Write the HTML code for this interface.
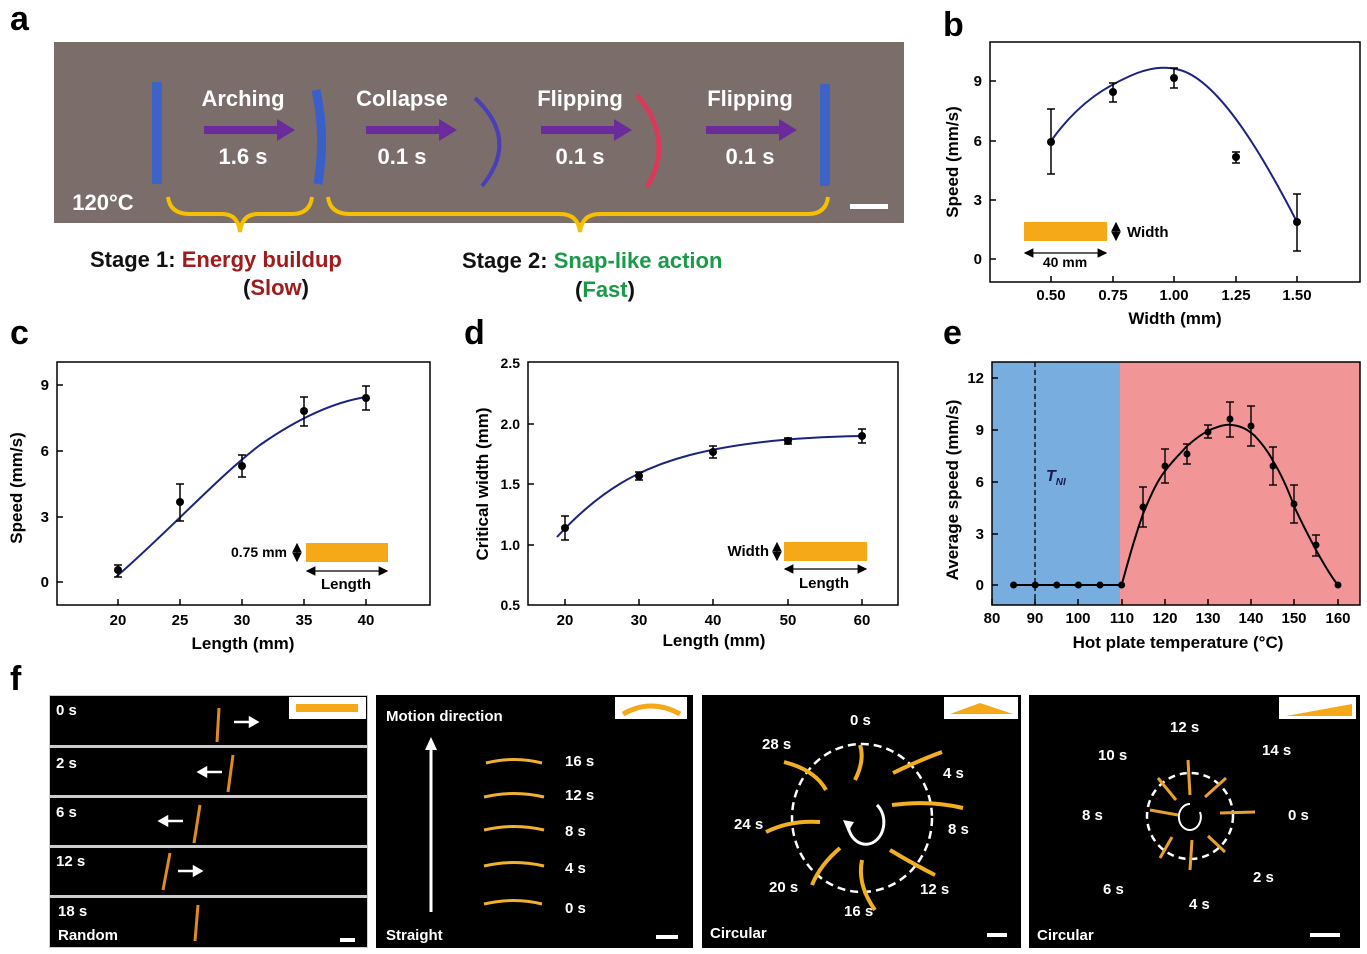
<!DOCTYPE html>
<html><head><meta charset="utf-8"><style>
html,body{margin:0;padding:0;background:#fff}
svg{display:block}
text{font-family:"Liberation Sans",Arial,sans-serif;font-weight:bold}
</style></head><body>
<svg width="1367" height="954" viewBox="0 0 1367 954" xmlns="http://www.w3.org/2000/svg">
<defs>
<marker id="ah" markerWidth="8" markerHeight="8" refX="7" refY="4" orient="auto"><path d="M0,0 L8,4 L0,8 z" fill="#000"/></marker>
<marker id="ahs" markerWidth="8" markerHeight="8" refX="7" refY="4" orient="auto-start-reverse"><path d="M0,0 L8,4 L0,8 z" fill="#000"/></marker>
</defs>

<!-- Panel a -->
<text x="10" y="30" font-size="34">a</text>
<rect x="54" y="42" width="850" height="181" fill="#7b6e6a"/>
<rect x="152" y="82" width="10" height="102" fill="#3d62c8" rx="2"/>
<path d="M316,90 Q326,136 318,184" stroke="#3b5fc8" stroke-width="9" fill="none"/>
<path d="M475,98 Q520,140 482,186" stroke="#4a3fb8" stroke-width="4" fill="none"/>
<path d="M637,95 Q675,140 647,187" stroke="#d83a5a" stroke-width="5" fill="none"/>
<rect x="820" y="84" width="10" height="102" fill="#3d62c8" rx="2"/>
<g fill="#6b2b9c">
<rect x="204" y="126" width="75" height="8"/><path d="M277,119 L295,130 L277,141z"/>
<rect x="366" y="126" width="75" height="8"/><path d="M439,119 L457,130 L439,141z"/>
<rect x="541" y="126" width="75" height="8"/><path d="M614,119 L632,130 L614,141z"/>
<rect x="706" y="126" width="75" height="8"/><path d="M779,119 L797,130 L779,141z"/>
</g>
<g fill="#fff" font-size="22" text-anchor="middle">
<text x="243" y="106">Arching</text><text x="243" y="164">1.6 s</text>
<text x="402" y="106">Collapse</text><text x="402" y="164">0.1 s</text>
<text x="580" y="106">Flipping</text><text x="580" y="164">0.1 s</text>
<text x="750" y="106">Flipping</text><text x="750" y="164">0.1 s</text>
<text x="103" y="210">120°C</text>
</g>
<rect x="850" y="204" width="38" height="5" fill="#fff"/>
<g stroke="#f5c000" stroke-width="4" fill="none">
<path d="M168,197 Q170,214 190,214 L222,214 Q238,214 240,232 Q242,214 258,214 L292,214 Q310,214 312,197"/>
<path d="M328,197 Q330,214 350,214 L560,214 Q578,214 580,232 Q582,214 600,214 L808,214 Q826,214 828,197"/>
</g>
<g font-size="22">
<text x="90" y="267" fill="#111">Stage 1: <tspan fill="#a01c1c">Energy buildup</tspan></text>
<text x="276" y="295" text-anchor="middle" fill="#111">(<tspan fill="#a01c1c">Slow</tspan>)</text>
<text x="462" y="268" fill="#111">Stage 2: <tspan fill="#1a9a48">Snap-like action</tspan></text>
<text x="605" y="297" text-anchor="middle" fill="#111">(<tspan fill="#1a9a48">Fast</tspan>)</text>
</g>

<!-- Panel b -->
<text x="943" y="36" font-size="34">b</text>
<rect x="990" y="42" width="370" height="240" fill="none" stroke="#000" stroke-width="1.5"/>
<g stroke="#000" stroke-width="1.5">
<line x1="1051" y1="282" x2="1051" y2="276"/><line x1="1113" y1="282" x2="1113" y2="276"/><line x1="1174" y1="282" x2="1174" y2="276"/><line x1="1236" y1="282" x2="1236" y2="276"/><line x1="1297" y1="282" x2="1297" y2="276"/>
<line x1="990" y1="259" x2="996" y2="259"/><line x1="990" y1="200" x2="996" y2="200"/><line x1="990" y1="141" x2="996" y2="141"/><line x1="990" y1="81" x2="996" y2="81"/>
</g>
<g font-size="15" text-anchor="middle">
<text x="1051" y="300">0.50</text><text x="1113" y="300">0.75</text><text x="1174" y="300">1.00</text><text x="1236" y="300">1.25</text><text x="1297" y="300">1.50</text>
<text x="1175" y="324" font-size="17">Width (mm)</text>
</g>
<g font-size="15" text-anchor="end"><text x="982" y="264">0</text><text x="982" y="205">3</text><text x="982" y="146">6</text><text x="982" y="86">9</text></g>
<text transform="translate(958,162) rotate(-90)" font-size="17" text-anchor="middle">Speed (mm/s)</text>
<path d="M1051,141 C1080,100 1110,85 1130,76 C1150,67 1165,66 1180,70 C1215,80 1255,140 1297,222" stroke="#1c2280" stroke-width="2" fill="none"/>
<g stroke="#000" stroke-width="1.5">
<line x1="1051" y1="109" x2="1051" y2="174"/><line x1="1047" y1="109" x2="1055" y2="109"/><line x1="1047" y1="174" x2="1055" y2="174"/>
<line x1="1113" y1="83" x2="1113" y2="102"/><line x1="1109" y1="83" x2="1117" y2="83"/><line x1="1109" y1="102" x2="1117" y2="102"/>
<line x1="1174" y1="68" x2="1174" y2="88"/><line x1="1170" y1="68" x2="1178" y2="68"/><line x1="1170" y1="88" x2="1178" y2="88"/>
<line x1="1236" y1="152" x2="1236" y2="163"/><line x1="1232" y1="152" x2="1240" y2="152"/><line x1="1232" y1="163" x2="1240" y2="163"/>
<line x1="1297" y1="194" x2="1297" y2="251"/><line x1="1293" y1="194" x2="1301" y2="194"/><line x1="1293" y1="251" x2="1301" y2="251"/>
</g>
<g fill="#000"><circle cx="1051" cy="142" r="4"/><circle cx="1113" cy="92" r="4"/><circle cx="1174" cy="78" r="4"/><circle cx="1236" cy="157" r="4"/><circle cx="1297" cy="222" r="4"/></g>
<rect x="1024" y="222" width="83" height="19" fill="#f5a818"/>
<line x1="1025" y1="253" x2="1106" y2="253" stroke="#000" stroke-width="1.2" marker-start="url(#ahs)" marker-end="url(#ah)"/>
<line x1="1116" y1="223" x2="1116" y2="240" stroke="#000" stroke-width="1.2" marker-start="url(#ahs)" marker-end="url(#ah)"/>
<text x="1065" y="267" font-size="14" text-anchor="middle">40 mm</text>
<text x="1127" y="237" font-size="15">Width</text>

<!-- Panel c -->
<text x="10" y="344" font-size="34">c</text>
<rect x="57" y="362" width="373" height="243" fill="none" stroke="#000" stroke-width="1.5"/>
<g stroke="#000" stroke-width="1.5">
<line x1="118" y1="605" x2="118" y2="599"/><line x1="180" y1="605" x2="180" y2="599"/><line x1="242" y1="605" x2="242" y2="599"/><line x1="304" y1="605" x2="304" y2="599"/><line x1="366" y1="605" x2="366" y2="599"/>
<line x1="57" y1="582" x2="63" y2="582"/><line x1="57" y1="517" x2="63" y2="517"/><line x1="57" y1="451" x2="63" y2="451"/><line x1="57" y1="385" x2="63" y2="385"/>
</g>
<g font-size="15" text-anchor="middle">
<text x="118" y="625">20</text><text x="180" y="625">25</text><text x="242" y="625">30</text><text x="304" y="625">35</text><text x="366" y="625">40</text>
<text x="243" y="649" font-size="17">Length (mm)</text>
</g>
<g font-size="15" text-anchor="end"><text x="49" y="587">0</text><text x="49" y="522">3</text><text x="49" y="456">6</text><text x="49" y="390">9</text></g>
<text transform="translate(22,488) rotate(-90)" font-size="17" text-anchor="middle">Speed (mm/s)</text>
<path d="M116,577 C170,530 220,475 260,445 C300,417 335,402 366,397" stroke="#1c2280" stroke-width="2" fill="none"/>
<g stroke="#000" stroke-width="1.5">
<line x1="118" y1="565" x2="118" y2="577"/><line x1="114" y1="565" x2="122" y2="565"/><line x1="114" y1="577" x2="122" y2="577"/>
<line x1="180" y1="484" x2="180" y2="521"/><line x1="176" y1="484" x2="184" y2="484"/><line x1="176" y1="521" x2="184" y2="521"/>
<line x1="242" y1="455" x2="242" y2="477"/><line x1="238" y1="455" x2="246" y2="455"/><line x1="238" y1="477" x2="246" y2="477"/>
<line x1="304" y1="397" x2="304" y2="426"/><line x1="300" y1="397" x2="308" y2="397"/><line x1="300" y1="426" x2="308" y2="426"/>
<line x1="366" y1="386" x2="366" y2="410"/><line x1="362" y1="386" x2="370" y2="386"/><line x1="362" y1="410" x2="370" y2="410"/>
</g>
<g fill="#000"><circle cx="118" cy="570" r="4"/><circle cx="180" cy="502" r="4"/><circle cx="242" cy="466" r="4"/><circle cx="304" cy="411" r="4"/><circle cx="366" cy="398" r="4"/></g>
<rect x="306" y="543" width="82" height="19" fill="#f5a818"/>
<line x1="307" y1="571" x2="387" y2="571" stroke="#000" stroke-width="1.2" marker-start="url(#ahs)" marker-end="url(#ah)"/>
<line x1="297" y1="544" x2="297" y2="561" stroke="#000" stroke-width="1.2" marker-start="url(#ahs)" marker-end="url(#ah)"/>
<text x="287" y="557" font-size="14" text-anchor="end">0.75 mm</text>
<text x="346" y="589" font-size="15" text-anchor="middle">Length</text>

<!-- Panel d -->
<text x="464" y="344" font-size="34">d</text>
<rect x="528" y="362" width="370" height="243" fill="none" stroke="#000" stroke-width="1.5"/>
<g stroke="#000" stroke-width="1.5">
<line x1="565" y1="605" x2="565" y2="599"/><line x1="639" y1="605" x2="639" y2="599"/><line x1="713" y1="605" x2="713" y2="599"/><line x1="788" y1="605" x2="788" y2="599"/><line x1="862" y1="605" x2="862" y2="599"/>
<line x1="528" y1="545" x2="534" y2="545"/><line x1="528" y1="484" x2="534" y2="484"/><line x1="528" y1="424" x2="534" y2="424"/>
</g>
<g font-size="15" text-anchor="middle">
<text x="565" y="625">20</text><text x="639" y="625">30</text><text x="713" y="625">40</text><text x="788" y="625">50</text><text x="862" y="625">60</text>
<text x="714" y="646" font-size="17">Length (mm)</text>
</g>
<g font-size="14" text-anchor="end"><text x="520" y="610">0.5</text><text x="520" y="550">1.0</text><text x="520" y="489">1.5</text><text x="520" y="429">2.0</text><text x="520" y="368">2.5</text></g>
<text transform="translate(488,484) rotate(-90)" font-size="17" text-anchor="middle">Critical width (mm)</text>
<path d="M557,537 C600,490 640,468 690,455 C740,442 800,437 862,436" stroke="#1c2280" stroke-width="2" fill="none"/>
<g stroke="#000" stroke-width="1.5">
<line x1="565" y1="516" x2="565" y2="540"/><line x1="561" y1="516" x2="569" y2="516"/><line x1="561" y1="540" x2="569" y2="540"/>
<line x1="639" y1="472" x2="639" y2="480"/><line x1="635" y1="472" x2="643" y2="472"/><line x1="635" y1="480" x2="643" y2="480"/>
<line x1="713" y1="446" x2="713" y2="458"/><line x1="709" y1="446" x2="717" y2="446"/><line x1="709" y1="458" x2="717" y2="458"/>
<line x1="788" y1="438" x2="788" y2="444"/><line x1="784" y1="438" x2="792" y2="438"/><line x1="784" y1="444" x2="792" y2="444"/>
<line x1="862" y1="429" x2="862" y2="443"/><line x1="858" y1="429" x2="866" y2="429"/><line x1="858" y1="443" x2="866" y2="443"/>
</g>
<g fill="#000"><circle cx="565" cy="528" r="4"/><circle cx="639" cy="476" r="4"/><circle cx="713" cy="452" r="4"/><circle cx="788" cy="441" r="4"/><circle cx="862" cy="436" r="4"/></g>
<rect x="784" y="542" width="83" height="19" fill="#f5a818"/>
<line x1="785" y1="569" x2="866" y2="569" stroke="#000" stroke-width="1.2" marker-start="url(#ahs)" marker-end="url(#ah)"/>
<line x1="777" y1="543" x2="777" y2="560" stroke="#000" stroke-width="1.2" marker-start="url(#ahs)" marker-end="url(#ah)"/>
<text x="769" y="556" font-size="15" text-anchor="end">Width</text>
<text x="824" y="588" font-size="15" text-anchor="middle">Length</text>

<!-- Panel e -->
<text x="943" y="344" font-size="34">e</text>
<rect x="992" y="362" width="128" height="243" fill="#77aedf"/>
<rect x="1120" y="362" width="240" height="243" fill="#f29596"/>
<rect x="992" y="362" width="368" height="243" fill="none" stroke="#000" stroke-width="1.5"/>
<line x1="1035" y1="362" x2="1035" y2="605" stroke="#000" stroke-width="1.3" stroke-dasharray="5,3"/>
<text x="1046" y="481" font-size="16" font-style="italic" fill="#1a1a50">T<tspan font-size="10" dy="4">NI</tspan></text>
<g stroke="#000" stroke-width="1.5">
<line x1="992" y1="605" x2="992" y2="599"/><line x1="1035" y1="605" x2="1035" y2="599"/><line x1="1078" y1="605" x2="1078" y2="599"/><line x1="1122" y1="605" x2="1122" y2="599"/><line x1="1165" y1="605" x2="1165" y2="599"/><line x1="1208" y1="605" x2="1208" y2="599"/><line x1="1251" y1="605" x2="1251" y2="599"/><line x1="1294" y1="605" x2="1294" y2="599"/><line x1="1338" y1="605" x2="1338" y2="599"/>
<line x1="992" y1="585" x2="998" y2="585"/><line x1="992" y1="534" x2="998" y2="534"/><line x1="992" y1="482" x2="998" y2="482"/><line x1="992" y1="430" x2="998" y2="430"/><line x1="992" y1="378" x2="998" y2="378"/>
</g>
<g font-size="15" text-anchor="middle">
<text x="992" y="623">80</text><text x="1035" y="623">90</text><text x="1078" y="623">100</text><text x="1122" y="623">110</text><text x="1165" y="623">120</text><text x="1208" y="623">130</text><text x="1251" y="623">140</text><text x="1294" y="623">150</text><text x="1338" y="623">160</text>
<text x="1178" y="648" font-size="17">Hot plate temperature (°C)</text>
</g>
<g font-size="15" text-anchor="end"><text x="984" y="590">0</text><text x="984" y="539">3</text><text x="984" y="487">6</text><text x="984" y="435">9</text><text x="984" y="383">12</text></g>
<text transform="translate(958,490) rotate(-90)" font-size="17" text-anchor="middle">Average speed (mm/s)</text>
<path d="M1013.6,585 L1121.6,585 C1126,570 1132,545 1143,514 C1152,492 1158,480 1165,471 C1175,458 1182,452 1186,447 C1196,438 1205,432 1212,429 C1220,426 1226,424 1232,425 C1242,426 1248,430 1255,436 C1265,447 1270,455 1273,461 C1283,477 1290,495 1294,506 C1305,530 1312,542 1316,550 C1326,568 1332,578 1338,585" stroke="#000" stroke-width="2" fill="none"/>
<g stroke="#000" stroke-width="1.4">
<line x1="1143" y1="487" x2="1143" y2="527"/><line x1="1139" y1="487" x2="1147" y2="487"/><line x1="1139" y1="527" x2="1147" y2="527"/>
<line x1="1165" y1="449" x2="1165" y2="483"/><line x1="1161" y1="449" x2="1169" y2="449"/><line x1="1161" y1="483" x2="1169" y2="483"/>
<line x1="1187" y1="444" x2="1187" y2="464"/><line x1="1183" y1="444" x2="1191" y2="444"/><line x1="1183" y1="464" x2="1191" y2="464"/>
<line x1="1208" y1="425" x2="1208" y2="438"/><line x1="1204" y1="425" x2="1212" y2="425"/><line x1="1204" y1="438" x2="1212" y2="438"/>
<line x1="1230" y1="402" x2="1230" y2="437"/><line x1="1226" y1="402" x2="1234" y2="402"/><line x1="1226" y1="437" x2="1234" y2="437"/>
<line x1="1251" y1="406" x2="1251" y2="446"/><line x1="1247" y1="406" x2="1255" y2="406"/><line x1="1247" y1="446" x2="1255" y2="446"/>
<line x1="1273" y1="447" x2="1273" y2="485"/><line x1="1269" y1="447" x2="1277" y2="447"/><line x1="1269" y1="485" x2="1277" y2="485"/>
<line x1="1294" y1="485" x2="1294" y2="523"/><line x1="1290" y1="485" x2="1298" y2="485"/><line x1="1290" y1="523" x2="1298" y2="523"/>
<line x1="1316" y1="535" x2="1316" y2="556"/><line x1="1312" y1="535" x2="1320" y2="535"/><line x1="1312" y1="556" x2="1320" y2="556"/>
</g>
<g fill="#000">
<circle cx="1013.6" cy="585" r="3.5"/><circle cx="1035.2" cy="585" r="3.5"/><circle cx="1056.8" cy="585" r="3.5"/><circle cx="1078.4" cy="585" r="3.5"/><circle cx="1100" cy="585" r="3.5"/><circle cx="1121.6" cy="585" r="3.5"/>
<circle cx="1143" cy="507" r="3.5"/><circle cx="1165" cy="466" r="3.5"/><circle cx="1187" cy="454" r="3.5"/><circle cx="1208" cy="432" r="3.5"/><circle cx="1230" cy="419" r="3.5"/><circle cx="1251" cy="426" r="3.5"/><circle cx="1273" cy="466" r="3.5"/><circle cx="1294" cy="504" r="3.5"/><circle cx="1316" cy="545" r="3.5"/><circle cx="1338" cy="585" r="3.5"/>
</g>

<!-- Panel f -->
<text x="10" y="690" font-size="34">f</text>
<rect x="49" y="695" width="319" height="253" fill="#ccc"/>
<g fill="#000">
<rect x="50" y="696" width="317" height="49"/>
<rect x="50" y="748" width="317" height="47"/>
<rect x="50" y="798" width="317" height="47"/>
<rect x="50" y="848" width="317" height="47"/>
<rect x="50" y="898" width="317" height="49"/>
</g>
<rect x="289" y="697" width="77" height="22" fill="#fff"/>
<rect x="296" y="704" width="62" height="8" fill="#f5a818"/>
<g stroke="#e08a20" stroke-width="3">
<line x1="219" y1="708" x2="217" y2="742"/><line x1="233" y1="755" x2="228" y2="792"/><line x1="200" y1="805" x2="194" y2="843"/><line x1="170" y1="853" x2="163" y2="890"/><line x1="198" y1="905" x2="195" y2="941"/>
</g>
<g fill="#fff" font-size="15">
<text x="56" y="715">0 s</text><text x="56" y="768">2 s</text><text x="56" y="817">6 s</text><text x="56" y="866">12 s</text><text x="58" y="916">18 s</text><text x="58" y="940">Random</text>
</g>
<g stroke="#fff" stroke-width="2.5" fill="#fff">
<line x1="234" y1="722" x2="250" y2="722"/><path d="M250,718 L257,722 L250,726z"/>
<line x1="206" y1="772" x2="222" y2="772"/><path d="M206,768 L199,772 L206,776z"/>
<line x1="167" y1="821" x2="183" y2="821"/><path d="M167,817 L160,821 L167,825z"/>
<line x1="178" y1="871" x2="194" y2="871"/><path d="M194,867 L201,871 L194,875z"/>
</g>
<rect x="340" y="938" width="15" height="4" fill="#fff"/>

<rect x="376" y="695" width="317" height="253" fill="#000"/>
<rect x="615" y="697" width="72" height="22" fill="#fff"/>
<path d="M623,714 Q651,698 680,714" stroke="#f5a818" stroke-width="5" fill="none"/>
<line x1="431" y1="912" x2="431" y2="748" stroke="#fff" stroke-width="3"/><path d="M425,750 L431,737 L437,750z" fill="#fff"/>
<g stroke="#f0b030" stroke-width="3" fill="none">
<path d="M486,763 Q514,756 542,763"/><path d="M484,797 Q514,790 544,797"/><path d="M484,830 Q514,823 544,830"/><path d="M484,866 Q514,859 544,866"/><path d="M484,904 Q514,897 542,904"/>
</g>
<g fill="#fff" font-size="15">
<text x="386" y="721">Motion direction</text><text x="386" y="940">Straight</text>
<text x="565" y="766">16 s</text><text x="565" y="800">12 s</text><text x="565" y="836">8 s</text><text x="565" y="873">4 s</text><text x="565" y="913">0 s</text>
</g>
<rect x="656" y="935" width="22" height="4" fill="#fff"/>

<rect x="702" y="695" width="319" height="253" fill="#000"/>
<rect x="944" y="697" width="74" height="22" fill="#fff"/>
<path d="M950,714 L980,703 L1013,714z" fill="#f5a818"/>
<ellipse cx="862" cy="818" rx="70" ry="74" fill="none" stroke="#fff" stroke-width="2.5" stroke-dasharray="8,5"/>
<path d="M877,805 A18,22 0 1 1 848,825" stroke="#fff" stroke-width="3" fill="none"/>
<path d="M843,820 L848,832 L854,822z" fill="#fff"/>
<g stroke="#f2b020" stroke-width="4" fill="none">
<path d="M860,745 Q865,760 855,780"/><path d="M892,805 Q930,800 963,808"/><path d="M893,773 Q920,760 942,752"/>
<path d="M890,850 Q915,865 935,875"/><path d="M862,860 Q857,885 875,910"/><path d="M840,848 Q820,865 812,885"/>
<path d="M766,832 Q790,820 820,822"/><path d="M784,762 Q815,770 826,790"/>
</g>
<g fill="#fff" font-size="15">
<text x="850" y="725">0 s</text><text x="943" y="778">4 s</text><text x="948" y="834">8 s</text><text x="920" y="894">12 s</text><text x="844" y="916">16 s</text><text x="769" y="892">20 s</text><text x="734" y="829">24 s</text><text x="762" y="749">28 s</text>
<text x="710" y="938">Circular</text>
</g>
<rect x="987" y="933" width="20" height="4" fill="#fff"/>

<rect x="1029" y="695" width="331" height="253" fill="#000"/>
<rect x="1279" y="697" width="77" height="22" fill="#fff"/>
<path d="M1286,716 L1352,704 L1352,716z" fill="#f5a818"/>
<circle cx="1190" cy="816" r="43" fill="none" stroke="#fff" stroke-width="2.5" stroke-dasharray="7,5"/>
<path d="M1200,812 A11,13 0 1 1 1190,804" stroke="#fff" stroke-width="2" fill="none"/>
<g stroke="#e8a030" stroke-width="3" fill="none">
<path d="M1220,813 L1255,812"/><path d="M1208,836 L1225,852"/><path d="M1192,840 L1190,870"/><path d="M1172,837 L1160,858"/><path d="M1150,810 L1178,815"/><path d="M1158,778 L1176,800"/><path d="M1188,760 L1190,795"/><path d="M1205,797 L1226,778"/>
</g>
<g fill="#fff" font-size="15">
<text x="1170" y="732">12 s</text><text x="1098" y="760">10 s</text><text x="1262" y="755">14 s</text><text x="1082" y="820">8 s</text><text x="1288" y="820">0 s</text><text x="1253" y="882">2 s</text><text x="1189" y="909">4 s</text><text x="1103" y="894">6 s</text>
<text x="1037" y="940">Circular</text>
</g>
<rect x="1310" y="933" width="30" height="4" fill="#fff"/>
</svg>
</body></html>
